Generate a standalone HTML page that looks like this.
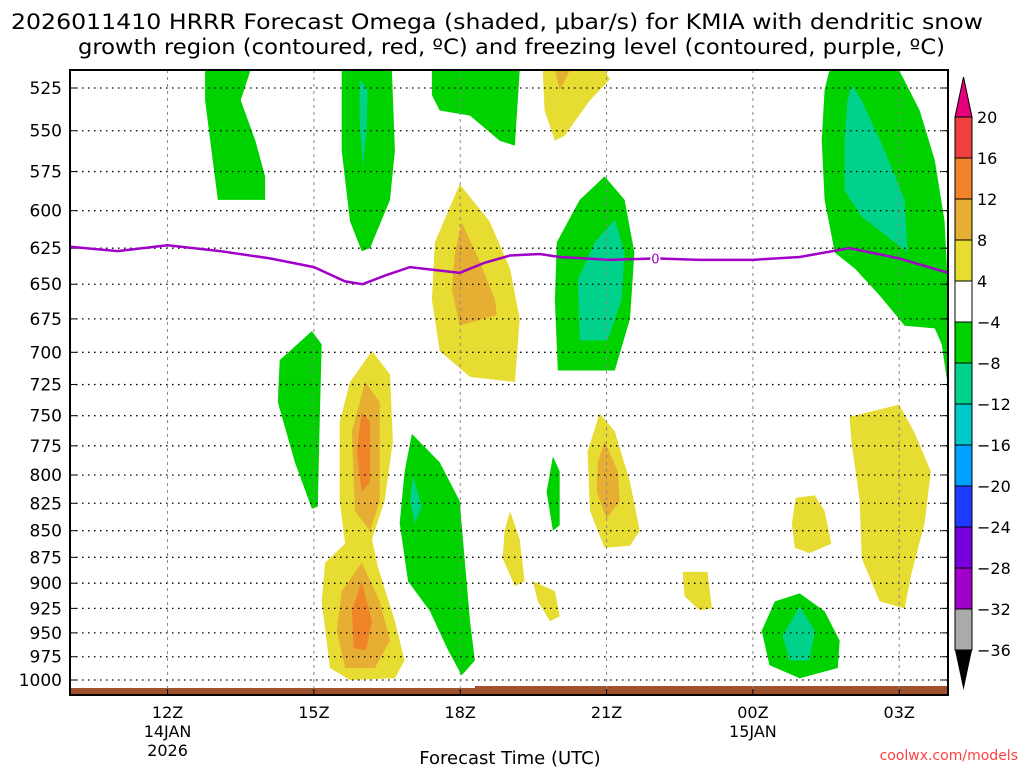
<!DOCTYPE html>
<html><head><meta charset="utf-8"><style>
body{margin:0;background:#fff;font-family:"DejaVu Sans","Liberation Sans",sans-serif}
svg text{font-family:"DejaVu Sans","Liberation Sans",sans-serif}
</style></head><body>
<svg id="c" width="1024" height="768" viewBox="0 0 1024 768">
<text x="11" y="29" textLength="972" lengthAdjust="spacingAndGlyphs" font-size="21">2026011410 HRRR Forecast Omega (shaded, μbar/s) for KMIA with dendritic snow</text>
<text x="78" y="54" textLength="867" lengthAdjust="spacingAndGlyphs" font-size="21">growth region (contoured, red, ºC) and freezing level (contoured, purple, ºC)</text>
<g id="plot"></g>
<text x="510" y="764" text-anchor="middle" font-size="18">Forecast Time (UTC)</text>
<text x="1018" y="760" text-anchor="end" font-size="14" fill="#ff4040">coolwx.com/models</text>
</svg>
<script>
const NS="http://www.w3.org/2000/svg";
const pTicks=[525,550,575,600,625,650,675,700,725,750,775,800,825,850,875,900,925,950,975,1000];
const hourTicks=[12,15,18,21,24,27];
const hourLabels=["12Z","15Z","18Z","21Z","00Z","03Z"];
const cbLevels=["20","16","12","8","4","−4","−8","−12","−16","−20","−24","−28","−32","−36"];
const cbColors=["#f04040","#f08428","#e6ae32","#e6dc32","#ffffff","#00d200","#00d28c","#00c8c8","#00a0ff","#1e3cff","#7800dc","#a000c8","#aaaaaa"];
const freezeH=[10,10.98,12,13.08,14.1,15,15.64,16,16.45,16.97,17.48,17.99,18.5,19.02,19.63,20.04,21.07,22,22.9,24,24.96,25.98,27,28];
const freezeP=[624,627,623,627,632,638,648,650,644,638,640,642,635,630,629,631,633,632,633,633,631,625,632,642];
const regions=[
["g",[12.77,13.7,13.5,13.8,14.0,14.0,13.03,12.9,12.77],[515,515,532,556,578,593,593,562,532]],
["g",[15.57,16.6,16.66,16.56,16.15,15.98,15.74,15.57],[515,515,562,593,625,627,607,562]],
["t",[15.94,16.1,16.08,16.0,15.94],[520,526,550,572,544]],
["g",[17.42,19.22,19.12,18.81,18.2,17.58,17.42],[515,515,559,556,541,538,529]],
["y",[19.69,20.96,21.07,20.66,20.14,19.94,19.73],[515,515,520,532,553,556,538]],
["o",[19.94,20.25,20.04],[515,515,526]],
["y",[17.99,18.6,19.02,19.22,19.12,18.2,17.58,17.42,17.48],[583,607,639,675,723,719,699,661,621]],
["o",[18.03,18.36,18.71,18.75,17.99,17.83,17.89],[608,631,661,672,680,654,628]],
["g",[20.96,21.37,21.57,21.48,21.17,20.0,19.94,19.98,20.45],[578,593,628,675,714,714,661,621,593]],
["t",[21.17,21.37,21.31,21.02,20.45,20.41,20.76],[606,628,661,691,691,647,621]],
["g",[14.96,15.16,15.12,15.08,14.96,14.61,14.26,14.3],[684,694,755,828,830,789,739,706]],
["y",[16.19,16.56,16.62,16.45,16.19,16.31,16.66,16.86,16.66,15.74,15.33,15.16,15.23,15.64,15.53,15.53,15.74],[699,717,771,823,858,884,938,979,998,1000,987,918,880,862,823,755,723]],
["o",[16.05,16.35,16.35,16.15,15.84,15.78],[723,739,823,850,832,763]],
["r",[15.98,16.15,16.15,15.98,15.88],[747,755,806,815,780]],
["o",[15.98,16.35,16.56,16.25,15.64,15.47,15.57],[880,918,958,987,987,948,908]],
["r",[15.98,16.19,16.07,15.82,15.78],[898,938,968,966,928]],
["g",[17.01,17.58,17.99,18.09,18.2,18.3,18.03,17.75,17.38,16.93,16.76,16.86],[765,789,823,876,938,979,995,968,928,898,843,797]],
["t",[17.03,17.21,17.07,16.97],[801,828,843,823]],
["y",[19.02,19.22,19.32,19.12,18.87,18.91],[832,858,898,903,876,850]],
["y",[19.49,19.94,20.04,19.84,19.59],[898,908,933,938,918]],
["g",[19.9,20.04,20.04,19.9,19.77],[784,797,845,850,815]],
["y",[20.86,21.17,21.48,21.68,21.48,20.96,20.66,20.61],[748,763,806,850,864,866,832,780]],
["o",[20.96,21.23,21.27,21.0,20.8,20.82],[771,797,823,839,815,789]],
["y",[22.56,23.07,23.16,22.91,22.6],[889,889,925,927,913]],
["y",[24.88,25.27,25.47,25.61,25.16,24.86,24.8],[820,818,832,862,871,866,843]],
["g",[24.96,25.47,25.78,25.74,24.96,24.34,24.18,24.45],[910,928,958,987,998,984,948,918]],
["t",[24.96,25.27,25.16,24.75,24.61],[923,948,979,979,953]],
["y",[25.98,27.0,27.3,27.65,27.52,27.25,27.11,26.6,26.23,26.19,26.02],[751,741,763,797,843,891,925,918,876,823,771]],
["g",[25.57,27.0,27.42,27.73,27.93,28.0,28.0,27.87,27.73,27.11,26.6,26.09,25.68,25.47,25.41,25.47],[515,515,538,568,607,654,727,694,682,680,658,639,628,593,556,526]],
["t",[26.02,26.23,26.7,27.11,27.17,26.91,26.23,25.88,25.88,25.94],[523,532,562,593,628,621,604,587,556,532]]
];
const fill={g:"#00d200",t:"#00d28c",y:"#e6dc32",o:"#e6ae32",r:"#f08428"};
const L=70,R=948,T=70,B=695,H0=10,H1=28;
const X=h=>L+(h-H0)*(R-L)/(H1-H0);
const Y=p=>88+Math.log(p/525)/Math.log(1000/525)*592;
const g=document.getElementById('plot');
function mk(t,a){const e=document.createElementNS(NS,t);for(const k in a)e.setAttribute(k,a[k]);g.appendChild(e);return e;}
regions.forEach((r,i)=>{
 const pts=r[1].map((h,j)=>X(h).toFixed(1)+","+Y(r[2][j]).toFixed(1)).join(" ");
 const e=mk('polygon',{points:pts,fill:fill[r[0]]});
 
 
});
const sfc=mk('rect',{x:L,y:688,width:R-L,height:7,fill:"#a0522d"});


mk('rect',{x:X(18.3),y:686,width:R-X(18.3),height:3,fill:"#a0522d"});
pTicks.forEach(p=>{
 const y=Y(p);
 const l=mk('line',{x1:L,x2:R,y1:y,y2:y,stroke:"#000","stroke-width":1.3,"stroke-dasharray":"1.5 4.5"});
 
 
 mk('line',{x1:L,x2:L+6,y1:y,y2:y,stroke:"#000"});
 mk('line',{x1:R,x2:R-6,y1:y,y2:y,stroke:"#000"});
 const t=mk('text',{x:L-8,y:y+6,"text-anchor":"end","font-size":17});
 t.textContent=p;
 
 
});
hourTicks.forEach((h,i)=>{
 const x=X(h);
 mk('line',{x1:x,x2:x,y1:T,y2:B,stroke:"#888","stroke-width":1,"stroke-dasharray":"3 4"});
 mk('line',{x1:x,x2:x,y1:B,y2:B-6,stroke:"#000"});
 const t=mk('text',{x:x,y:718,"text-anchor":"middle","font-size":16});
 t.textContent=hourLabels[i];
 
 
});
[["14JAN",X(12),737],["2026",X(12),756],["15JAN",X(24),737]].forEach(a=>{
 const t=mk('text',{x:a[1],y:a[2],"text-anchor":"middle","font-size":16});t.textContent=a[0];
 
 
});
const fl=mk('polyline',{points:freezeH.map((h,j)=>X(h)+","+Y(freezeP[j])).join(" "),fill:"none",stroke:"#a000c8","stroke-width":2.5});


mk('rect',{x:X(22)-5,y:Y(632)-7,width:10,height:14,fill:"#fff"});
const fz=mk('text',{x:X(22),y:Y(632)+5,"text-anchor":"middle","font-size":13,fill:"#a000c8"});fz.textContent="0";


const fr=mk('rect',{x:L,y:T,width:R-L,height:B-T,fill:"none",stroke:"#000","stroke-width":2});


const cx=955,cw=17,c0=117,cs=41;
const up=mk('polygon',{points:`${cx},${c0} ${cx+cw},${c0} ${cx+cw/2},${c0-40}`,fill:"#e6007e",stroke:"#000"});


cbColors.forEach((c,i)=>{
 const r=mk('rect',{x:cx,y:c0+i*cs,width:cw,height:cs,fill:c,stroke:"#000","stroke-width":1});
 
 
});
const bot=c0+cbColors.length*cs;
const dn=mk('polygon',{points:`${cx},${bot} ${cx+cw},${bot} ${cx+cw/2},${bot+40}`,fill:"#000"});


cbLevels.forEach((l,i)=>{
 const t=mk('text',{x:977,y:c0+i*cs+6,"font-size":16});t.textContent=l;
 
 
});
</script>
</body></html>
